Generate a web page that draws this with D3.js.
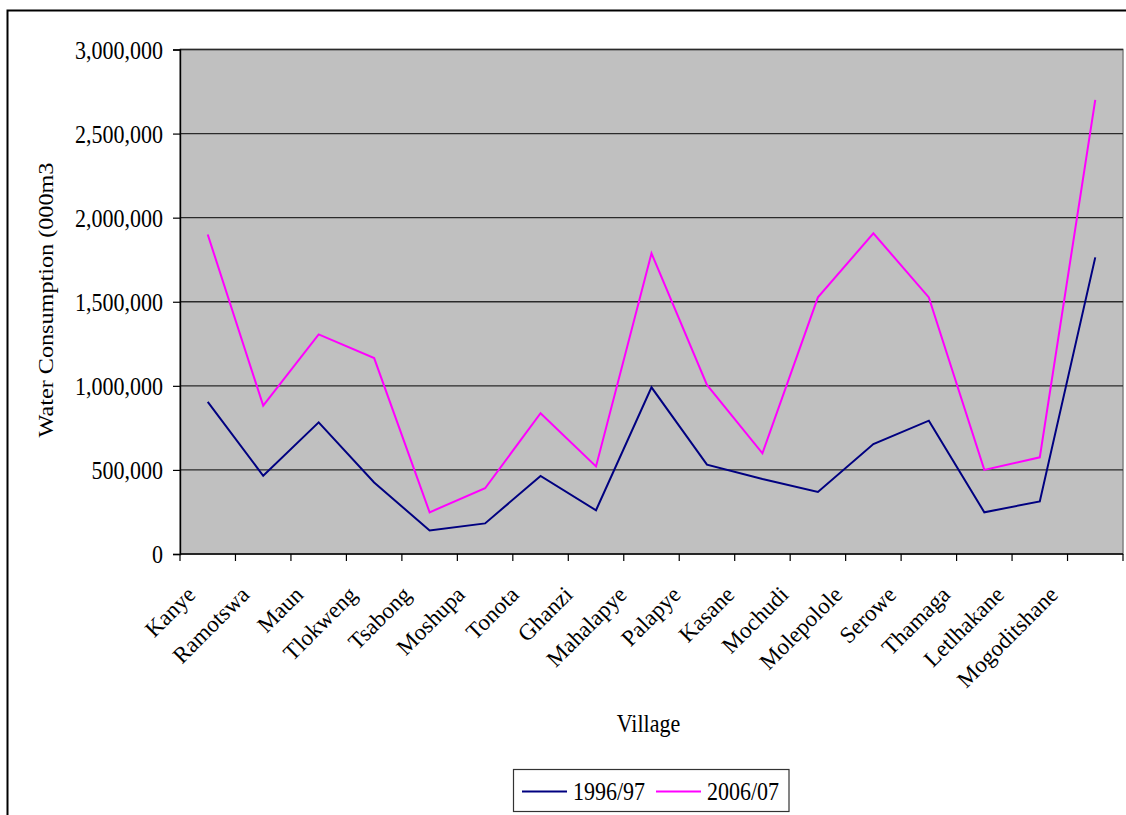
<!DOCTYPE html>
<html>
<head>
<meta charset="utf-8">
<script src="https://cdn.jsdelivr.net/npm/d3@7"></script>
<style>
  html, body { margin: 0; padding: 0; background: #fff; }
  svg { display: block; }
  text { font-family: "Liberation Serif", "Times New Roman", serif; fill: #000; }
</style>
</head>
<body>
<svg id="chart" width="1126" height="815"></svg>
<script>
// Village water consumption, 1996/97 vs 2006/07
const villages = ["Kanye", "Ramotswa", "Maun", "Tlokweng", "Tsabong", "Moshupa", "Tonota",
  "Ghanzi", "Mahalapye", "Palapye", "Kasane", "Mochudi", "Molepolole", "Serowe",
  "Thamaga", "Letlhakane", "Mogoditshane"];

const consumption1996 = [905000, 465000, 783000, 425000, 140000, 182000, 464000, 260000,
  991000, 531000, 446000, 369000, 654000, 793000, 248000, 313000, 1764000];

const consumption2006 = [1900000, 882000, 1306000, 1165000, 248000, 391000, 837000, 521000,
  1788000, 1005000, 599000, 1526000, 1907000, 1526000, 500000, 575000, 2700000];

const seriesNames = ["1996/97", "2006/07"];
const yTicks = [0, 500000, 1000000, 1500000, 2000000, 2500000, 3000000];

const series = [
  { name: seriesNames[0], values: consumption1996, color: "#000080" },
  { name: seriesNames[1], values: consumption2006, color: "#FF00FF" }
];

const svg = d3.select("#chart");
const plot = { left: 180, right: 1123, top: 49.5, bottom: 554 };
const TALL = 1.1; // glyphs are drawn slightly taller than wide

// outer frame
svg.append("rect")
  .attr("x", 7.5).attr("y", 10.5)
  .attr("width", 1140).attr("height", 830)
  .attr("fill", "none").attr("stroke", "#000").attr("stroke-width", 2);

const x = d3.scaleBand().domain(villages).range([plot.left, plot.right]).paddingInner(0).paddingOuter(0);
const y = d3.scaleLinear().domain([0, 3000000]).range([plot.bottom, plot.top]);
const cx = d => x(d) + x.bandwidth() / 2;

// plot area
svg.append("rect")
  .attr("x", plot.left).attr("y", plot.top)
  .attr("width", plot.right - plot.left).attr("height", plot.bottom - plot.top)
  .attr("fill", "#C0C0C0").attr("stroke", "#808080").attr("stroke-width", 1.5);

// gridlines
svg.append("g").selectAll("line")
  .data(yTicks.filter(t => t > 0))
  .join("line")
  .attr("x1", plot.left).attr("x2", plot.right)
  .attr("y1", d => y(d)).attr("y2", d => y(d))
  .attr("stroke", "#2a2a2a").attr("stroke-width", 1.4);

// y axis
const fmt = d3.format(",");
const yAxis = svg.append("g").attr("transform", `translate(${plot.left},0)`)
  .call(d3.axisLeft(y).tickValues(yTicks).tickSize(7).tickPadding(10).tickFormat(d => fmt(d)));
yAxis.select(".domain").attr("stroke", "#000").attr("stroke-width", 1.4);
yAxis.selectAll(".tick line").attr("stroke", "#000").attr("stroke-width", 1.2);
yAxis.selectAll(".tick text")
  .attr("font-family", "Liberation Serif, Times New Roman, serif")
  .attr("font-size", 22)
  .attr("x", null).attr("dy", null)
  .attr("transform", `translate(-17,8.5) scale(1,${TALL})`);

// x axis: ticks on category boundaries
const boundaries = villages.map(v => x(v)).concat([plot.right]);
const xAxisG = svg.append("g");
xAxisG.append("line")
  .attr("x1", plot.left).attr("x2", plot.right)
  .attr("y1", plot.bottom).attr("y2", plot.bottom)
  .attr("stroke", "#000").attr("stroke-width", 1.4);
xAxisG.selectAll("line.tk")
  .data(boundaries)
  .join("line").attr("class", "tk")
  .attr("x1", d => d).attr("x2", d => d)
  .attr("y1", plot.bottom).attr("y2", plot.bottom + 7)
  .attr("stroke", "#000").attr("stroke-width", 1.2);

// category labels, rotated 45 degrees
const labelX = d3.scalePoint().domain(villages)
  .range([cx(villages[0]) - 11, cx(villages[villages.length - 1]) - 36]);
xAxisG.selectAll("text")
  .data(villages)
  .join("text")
  .attr("transform", d => `translate(${labelX(d)},596) rotate(-45)`)
  .attr("text-anchor", "end")
  .attr("font-size", 23)
  .text(d => d);

// axis titles
svg.append("text")
  .attr("transform", `translate(${(plot.left + plot.right) / 2 - 3},732) scale(1,${TALL})`)
  .attr("text-anchor", "middle").attr("font-size", 22)
  .text("Village");

svg.append("text")
  .attr("transform", `translate(53,300) scale(1,${TALL}) rotate(-90)`)
  .attr("text-anchor", "middle").attr("font-size", 22)
  .text("Water Consumption (000m3");

// series lines
const line = d3.line().x((d, i) => cx(villages[i])).y(d => y(d));
svg.append("g").selectAll("path")
  .data(series)
  .join("path")
  .attr("d", d => line(d.values))
  .attr("fill", "none")
  .attr("stroke", d => d.color)
  .attr("stroke-width", 2)
  .attr("stroke-linejoin", "miter");

// legend
const legend = svg.append("g");
legend.append("rect")
  .attr("x", 513.5).attr("y", 769.5).attr("width", 275.5).attr("height", 42)
  .attr("fill", "#fff").attr("stroke", "#333").attr("stroke-width", 1.2);
const legendItems = [{ x: 522 }, { x: 656 }];
legend.selectAll("g.item")
  .data(series)
  .join("g").attr("class", "item")
  .each(function (d, i) {
    const g = d3.select(this);
    const lx = legendItems[i].x;
    g.append("line")
      .attr("x1", lx).attr("x2", lx + 45)
      .attr("y1", 791.5).attr("y2", 791.5)
      .attr("stroke", d.color).attr("stroke-width", 2);
    g.append("text")
      .attr("transform", `translate(${lx + 51},800) scale(1,${TALL})`)
      .attr("font-size", 22)
      .text(d.name);
  });
</script>
</body>
</html>
